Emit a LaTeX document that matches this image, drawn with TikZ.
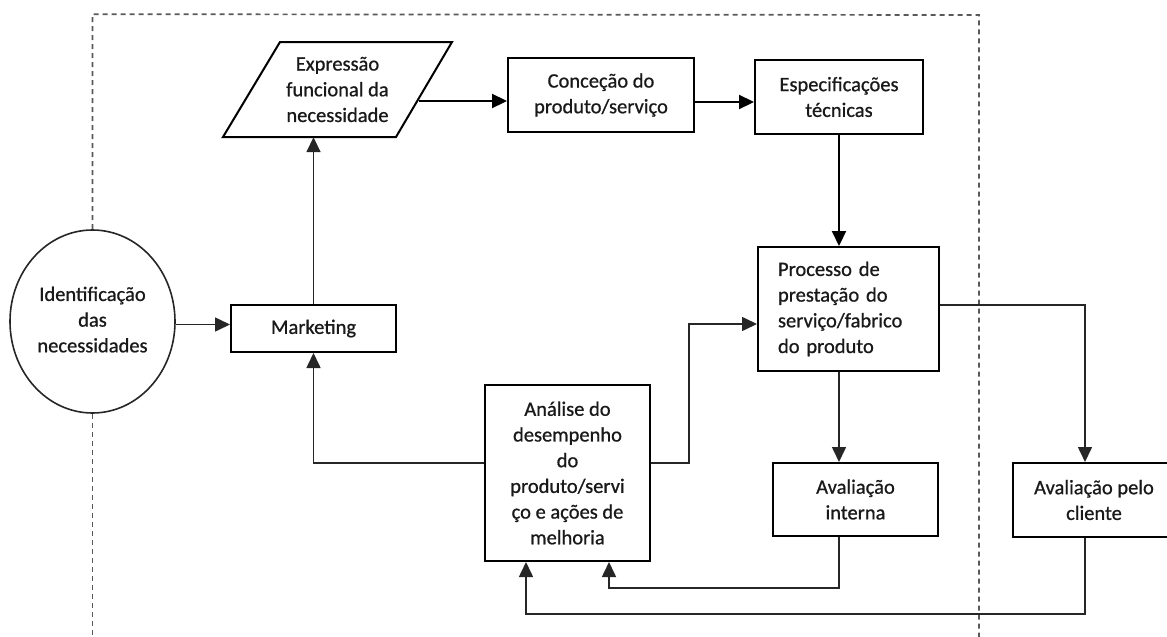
\documentclass[tikz,border=0pt]{standalone}
\usepackage{fontspec}
\setmainfont[FakeBold=0.8]{Carlito}
\usetikzlibrary{arrows.meta,shapes.geometric,calc}
\begin{document}
\begin{tikzpicture}[x=1pt,y=-1pt,
  txt/.style={font=\fontsize{20.5}{25.7}\selectfont,align=center,inner sep=0pt,text=black!90},
  box/.style={txt,draw=black,line width=2pt,rectangle},
  arr/.style={-{Triangle[length=15pt,width=14pt]},line width=1.6pt,draw=black!85},
  thk/.style={-{Triangle[length=15pt,width=14pt]},line width=2.2pt,draw=black},
  frame/.style={dash pattern=on 5pt off 4pt,line width=1.7pt,draw=black!65}]
\useasboundingbox (0,0) rectangle (1167,637);

% nodes
\node[txt,draw=black!85,line width=1.6pt,ellipse,minimum width=165pt,minimum height=183pt] (circ) at (92.5,321.5) {\raisebox{-7pt}{\begin{tabular}{@{}c@{}}Identificação\\das\\necessidades\end{tabular}}};
\node[box,minimum width=165pt,minimum height=47pt] (mkt) at (313.5,328.5) {Marketing};
\node[txt,minimum width=173pt,minimum height=95pt] (expr) at (337.5,89.5) {Expressão\\funcional da\\necessidade};
\draw[line width=2pt] (280,42) -- (452,42) -- (396,137) -- (223,137) -- cycle;
\node[box,minimum width=186pt,minimum height=74pt] (conc) at (601,95) {Conceção do\\produto/serviço};
\node[box,minimum width=168pt,minimum height=74pt] (esp) at (839,97) {Especificações\\técnicas};
\node[box,align=left,text width=141pt,inner xsep=20pt,minimum width=181pt,minimum height=124pt] (proc) at (848.5,309) {Processo de\\prestação do\\serviço/fabrico\\do produto};
\node[box,minimum width=165pt,minimum height=176pt] (ana) at (567.5,473) {Análise do\\desempenho\\do\\produto/servi\\ço e ações de\\melhoria};
\node[box,minimum width=165pt,minimum height=73pt] (avi) at (855.5,499.5) {Avaliação\\interna};
\node[box,minimum width=162pt,minimum height=74pt] (avc) at (1094,500) {Avaliação pelo\\cliente};

% dashed frame
\draw[frame] (circ.north) -- ++(0,-215) -- (979,15) -- (979,640);
\draw[frame] (circ.south) -- ++(0,230);

% helper coordinates
\coordinate (e1) at (419,101);
\coordinate (c1) at ($(conc.east)+(0,7)$);
\coordinate (a1) at ($(ana.east)+(0,-10)$);
\coordinate (a2) at ($(ana.west)+(0,-10)$);
\coordinate (p1) at ($(proc.east)+(0,-4)$);
\coordinate (p2) at ($(proc.south)+(-9.5,0)$);
\coordinate (v1) at ($(avi.south)+(-16.5,0)$);
\coordinate (v2) at ($(avc.south)+(-9,0)$);

% connectors
\draw[arr] ($(circ.east)+(0,3)$) -- ($(mkt.west)+(0,-4)$);
\draw[arr] (mkt.north) -- (mkt.north |- expr.south);
\draw[thk] (e1) -- (e1 -| conc.west);
\draw[thk] (c1) -- (c1 -| esp.west);
\draw[thk] (esp.south) -- (esp.south |- proc.north);
\draw[arr] (a1) -| ($(proc.west)+(-68,15)$) -- ($(proc.west)+(0,15)$);
\draw[arr] (a2) -| (mkt.south);
\draw[arr] (p2) -- (p2 |- avi.north);
\draw[arr] (p1) -| ($(avc.north)+(-9,0)$);
\draw[arr] (v1) -- ++(0,51) -| ($(ana.south)+(41.5,0)$);
\draw[arr] (v2) -- ++(0,76) -| ($(ana.south)+(-41.5,0)$);
\end{tikzpicture}
\end{document}
